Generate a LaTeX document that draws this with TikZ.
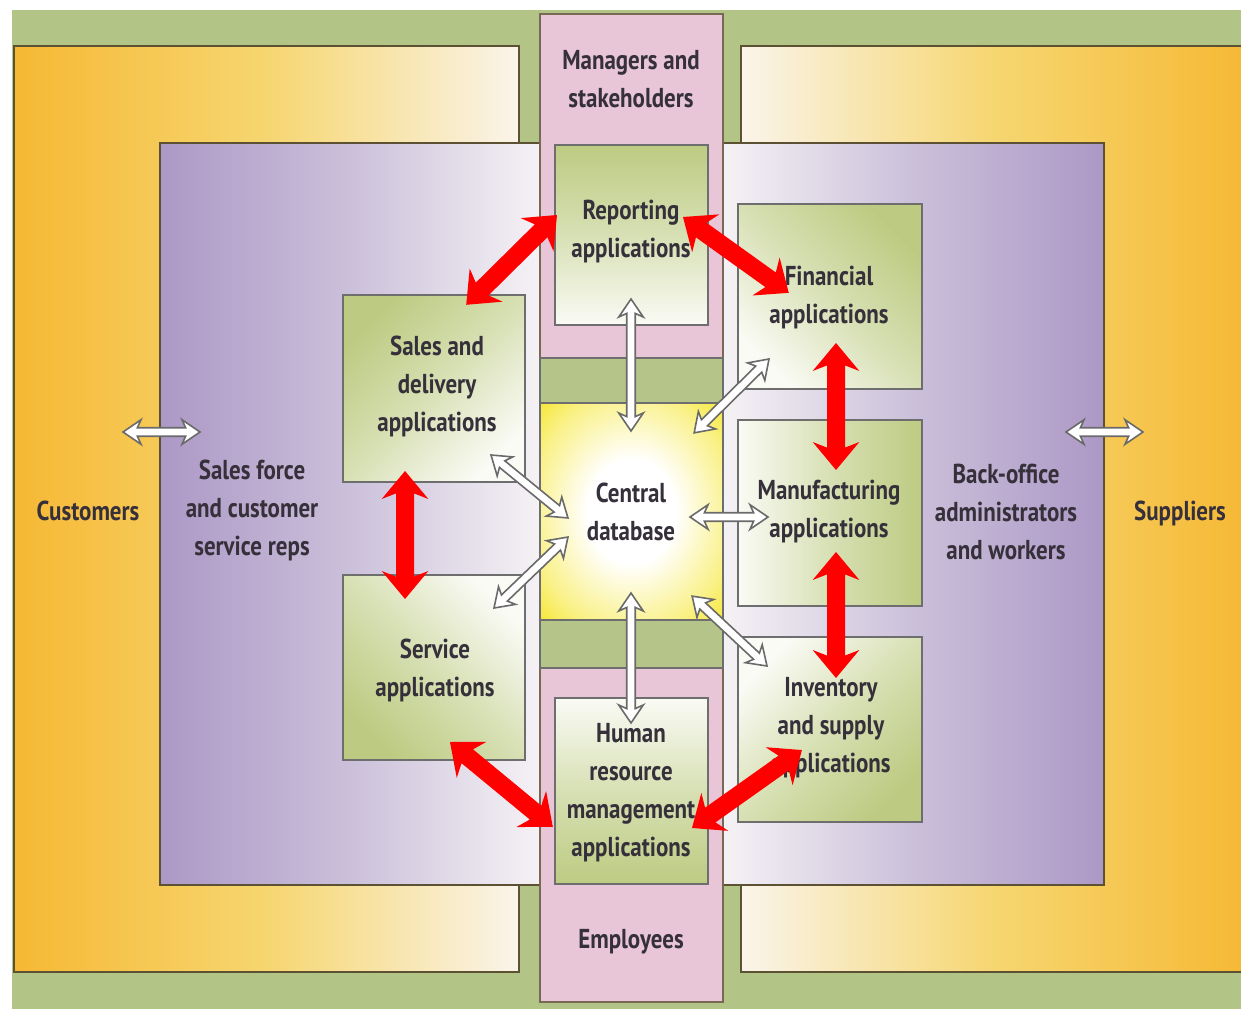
\documentclass[tikz,border=0pt]{standalone}
\usepackage{fontspec}
\setmainfont{PT Sans}[FakeStretch=0.84]
\definecolor{bggreen}{HTML}{B3C487}
\definecolor{panelborder}{HTML}{5C5233}
\definecolor{orangeL}{HTML}{F6B834}
\definecolor{orangeM}{HTML}{F6D670}
\definecolor{paleW}{HTML}{FAF4EA}
\definecolor{lilacL}{HTML}{AC98C6}
\definecolor{lilacM}{HTML}{CBC0DA}
\definecolor{lilacW}{HTML}{F5F2F5}
\definecolor{pinkcol}{HTML}{E8C6D7}
\definecolor{bandgreen}{HTML}{B5C488}
\definecolor{dbyellow}{HTML}{F4E20A}
\definecolor{boxgreen}{HTML}{BDCB82}
\definecolor{boxborder}{HTML}{6E6E6E}
\definecolor{txt}{HTML}{35303A}
\definecolor{arrowgray}{HTML}{6A6A6A}

\pgfdeclareradialshading{dbglow}{\pgfpointorigin}{%
  color(0bp)=(white); color(12bp)=(white); color(28bp)=(dbyellow!50!white);
  color(40bp)=(dbyellow); color(50bp)=(dbyellow)}

% double-headed arrow as a filled outline between two named points
% #1 style, #2 from, #3 to, #4 head length, #5 head half width, #6 shaft half width (pt)
\newcommand\twowayarrow[6]{%
  \pgfpointanchor{#2}{center}\pgfgetlastxy\ax\ay
  \pgfpointanchor{#3}{center}\pgfgetlastxy\bx\by
  \pgfmathsetmacro\arang{atan2(\by-\ay,\bx-\ax)}%
  \pgfmathsetmacro\arlen{veclen(\bx-\ax,\by-\ay)}%
  \pgfmathsetmacro\arhb{#4*0.8}%
  \pgfmathsetmacro\arfar{\arlen-#4}%
  \pgfmathsetmacro\arfarb{\arlen-\arhb}%
  \begin{scope}[shift={(\ax,\ay)}, rotate=\arang]
    \path[#1] (0pt,0pt) -- (#4pt,#5pt) -- (\arhb pt,#6pt) -- (\arfarb pt,#6pt)
      -- (\arfar pt,#5pt) -- (\arlen pt,0pt) -- (\arfar pt,-#5pt)
      -- (\arfarb pt,-#6pt) -- (\arhb pt,-#6pt) -- (#4pt,-#5pt) -- cycle;
  \end{scope}}

\begin{document}
\begin{tikzpicture}[x=0.75pt,y=-0.75pt,
  lbl/.style={font=\bfseries\fontsize{20.5}{28.5}\selectfont, text=txt, align=center, inner sep=0pt},
  appbox/.style={draw=boxborder, line width=1.1pt, top color=boxgreen, bottom color=white!92!boxgreen,
    middle color=boxgreen!60!white, inner sep=0pt},
  hollow/.style={fill=white, draw=arrowgray, line width=1.2pt, line join=miter},
  redarrow/.style={fill=red}]
\useasboundingbox (0,0) rectangle (1241,1009);
\fill[white] (0,0) rectangle (1241,1009);
\fill[bggreen] (12,10) rectangle (1245,1012);

% outer stakeholder panels
\shadedraw[draw=panelborder, line width=1.5pt, left color=orangeL, right color=paleW, middle color=orangeM]
  (14,46) rectangle (519,972);
\shadedraw[draw=panelborder, line width=1.5pt, left color=paleW, right color=orangeL, middle color=orangeM]
  (741,46) rectangle (1250,972);

% inner staff panels
\shadedraw[draw=panelborder, line width=1.3pt, left color=lilacL, right color=lilacW, middle color=lilacM]
  (160,143) rectangle (540,885);
\shadedraw[draw=panelborder, line width=1.3pt, left color=lilacW, right color=lilacL, middle color=lilacM]
  (723,143) rectangle (1104,885);

% central column
\draw[fill=pinkcol, draw=panelborder!80!pinkcol, line width=1.3pt] (540,14) rectangle (723,1002);
\draw[fill=bandgreen, draw=boxborder, line width=1.1pt] (540,358) rectangle (723,403);
\draw[fill=bandgreen, draw=boxborder, line width=1.1pt] (540,620) rectangle (723,668);
\draw[shading=dbglow, draw=boxborder, line width=1.1pt] (540,403) rectangle (723,620);
\node[inner sep=0pt, minimum width=137.25pt, minimum height=162.75pt] (db) at (631.5,511.5) {};

% application boxes
\node[appbox, shading angle=0,   minimum width=114.75pt, minimum height=135pt]   (rep) at (631.5,235) {};
\node[appbox, shading angle=45,  minimum width=136.5pt,  minimum height=140.25pt] (sal) at (434,388.5) {};
\node[appbox, shading angle=135, minimum width=136.5pt,  minimum height=138.75pt] (ser) at (434,667.5) {};
\node[appbox, shading angle=180, minimum width=114.75pt, minimum height=139.5pt]  (hrm) at (631.5,791) {};
\node[appbox, shading angle=-45, minimum width=138pt,    minimum height=138.75pt] (fin) at (830,296.5) {};
\node[appbox, shading angle=-90, minimum width=138pt,    minimum height=139.5pt]  (man) at (830,513) {};
\node[appbox, shading angle=-135,minimum width=138pt,    minimum height=138.75pt] (inv) at (830,729.5) {};

% labels
\node[lbl] (tmgr) at (631,79)  {Managers and\\stakeholders};
\node[lbl] (temp) at (631,942) {Employees};
\node[lbl] (tcus) at (88,511)  {Customers};
\node[lbl] (tsup) at (1180,513) {Suppliers};
\node[lbl] (tsfr) at (252,510) {Sales force\\and customer\\service reps};
\node[lbl] (tbo)  at (1006,512) {Back-office\\administrators\\and workers};
\node[lbl] (tdb)  at (631,512) {Central\\database};
\node[lbl] (trep) at (631,232) {Reporting\\applications};
\node[lbl] (tsal) at (437,386) {Sales and\\delivery\\applications};
\node[lbl] (tser) at (435,670) {Service\\applications};
\node[lbl] (tfin) at (829,298) {Financial\\applications};
\node[lbl] (tman) at (829,512) {Manufacturing\\applications};
\node[lbl] (tinv) at (831,728) {Inventory\\and supply\\applications};
\node[lbl] (thrm) at (631,793) {Human\\resource\\management\\applications};

% arrow end points
\coordinate (rep-db) at (631,299);  \coordinate (db-rep) at (631,431);
\coordinate (fin-db) at (769,359);  \coordinate (db-fin) at (694,433);
\coordinate (man-db) at (768,517);  \coordinate (db-man) at (690,517);
\coordinate (inv-db) at (767,666);  \coordinate (db-inv) at (692,596);
\coordinate (hrm-db) at (631,723);  \coordinate (db-hrm) at (631,593);
\coordinate (ser-db) at (494,608);  \coordinate (db-ser) at (568,537);
\coordinate (sal-db) at (491,455);  \coordinate (db-sal) at (568,518);
\coordinate (cus-out) at (123,432); \coordinate (cus-in) at (200,432);
\coordinate (sup-in) at (1066,432); \coordinate (sup-out) at (1143,432);

\coordinate (rep-sal) at (557,215); \coordinate (sal-rep) at (466,305);
\coordinate (rep-fin) at (683,217); \coordinate (fin-rep) at (789,293);
\coordinate (fin-man) at (836,343); \coordinate (man-fin) at (836,470);
\coordinate (man-inv) at (836,552); \coordinate (inv-man) at (836,678);
\coordinate (sal-ser) at (405,471); \coordinate (ser-sal) at (405,599);
\coordinate (ser-hrm) at (450,742); \coordinate (hrm-ser) at (553,827);
\coordinate (hrm-inv) at (692,828); \coordinate (inv-hrm) at (802,750);

% links to the central database and to the outside parties
\twowayarrow{hollow}{rep-db}{db-rep}{13.5}{9.2}{3.2}
\twowayarrow{hollow}{fin-db}{db-fin}{13.5}{9.2}{3.2}
\twowayarrow{hollow}{man-db}{db-man}{13.5}{9.2}{3.2}
\twowayarrow{hollow}{inv-db}{db-inv}{13.5}{9.2}{3.2}
\twowayarrow{hollow}{hrm-db}{db-hrm}{13.5}{9.2}{3.2}
\twowayarrow{hollow}{ser-db}{db-ser}{13.5}{9.2}{3.2}
\twowayarrow{hollow}{sal-db}{db-sal}{13.5}{9.2}{3.2}
\twowayarrow{hollow}{cus-out}{cus-in}{13.5}{9.2}{3.2}
\twowayarrow{hollow}{sup-in}{sup-out}{13.5}{9.2}{3.2}

% links between the applications
\twowayarrow{redarrow}{rep-sal}{sal-rep}{21}{17.5}{6.75}
\twowayarrow{redarrow}{rep-fin}{fin-rep}{21}{17.5}{6.75}
\twowayarrow{redarrow}{fin-man}{man-fin}{21}{17.5}{6.75}
\twowayarrow{redarrow}{man-inv}{inv-man}{21}{17.5}{6.75}
\twowayarrow{redarrow}{sal-ser}{ser-sal}{21}{17.5}{6.75}
\twowayarrow{redarrow}{ser-hrm}{hrm-ser}{21}{17.5}{6.75}
\twowayarrow{redarrow}{hrm-inv}{inv-hrm}{21}{17.5}{6.75}
\end{tikzpicture}
\end{document}
